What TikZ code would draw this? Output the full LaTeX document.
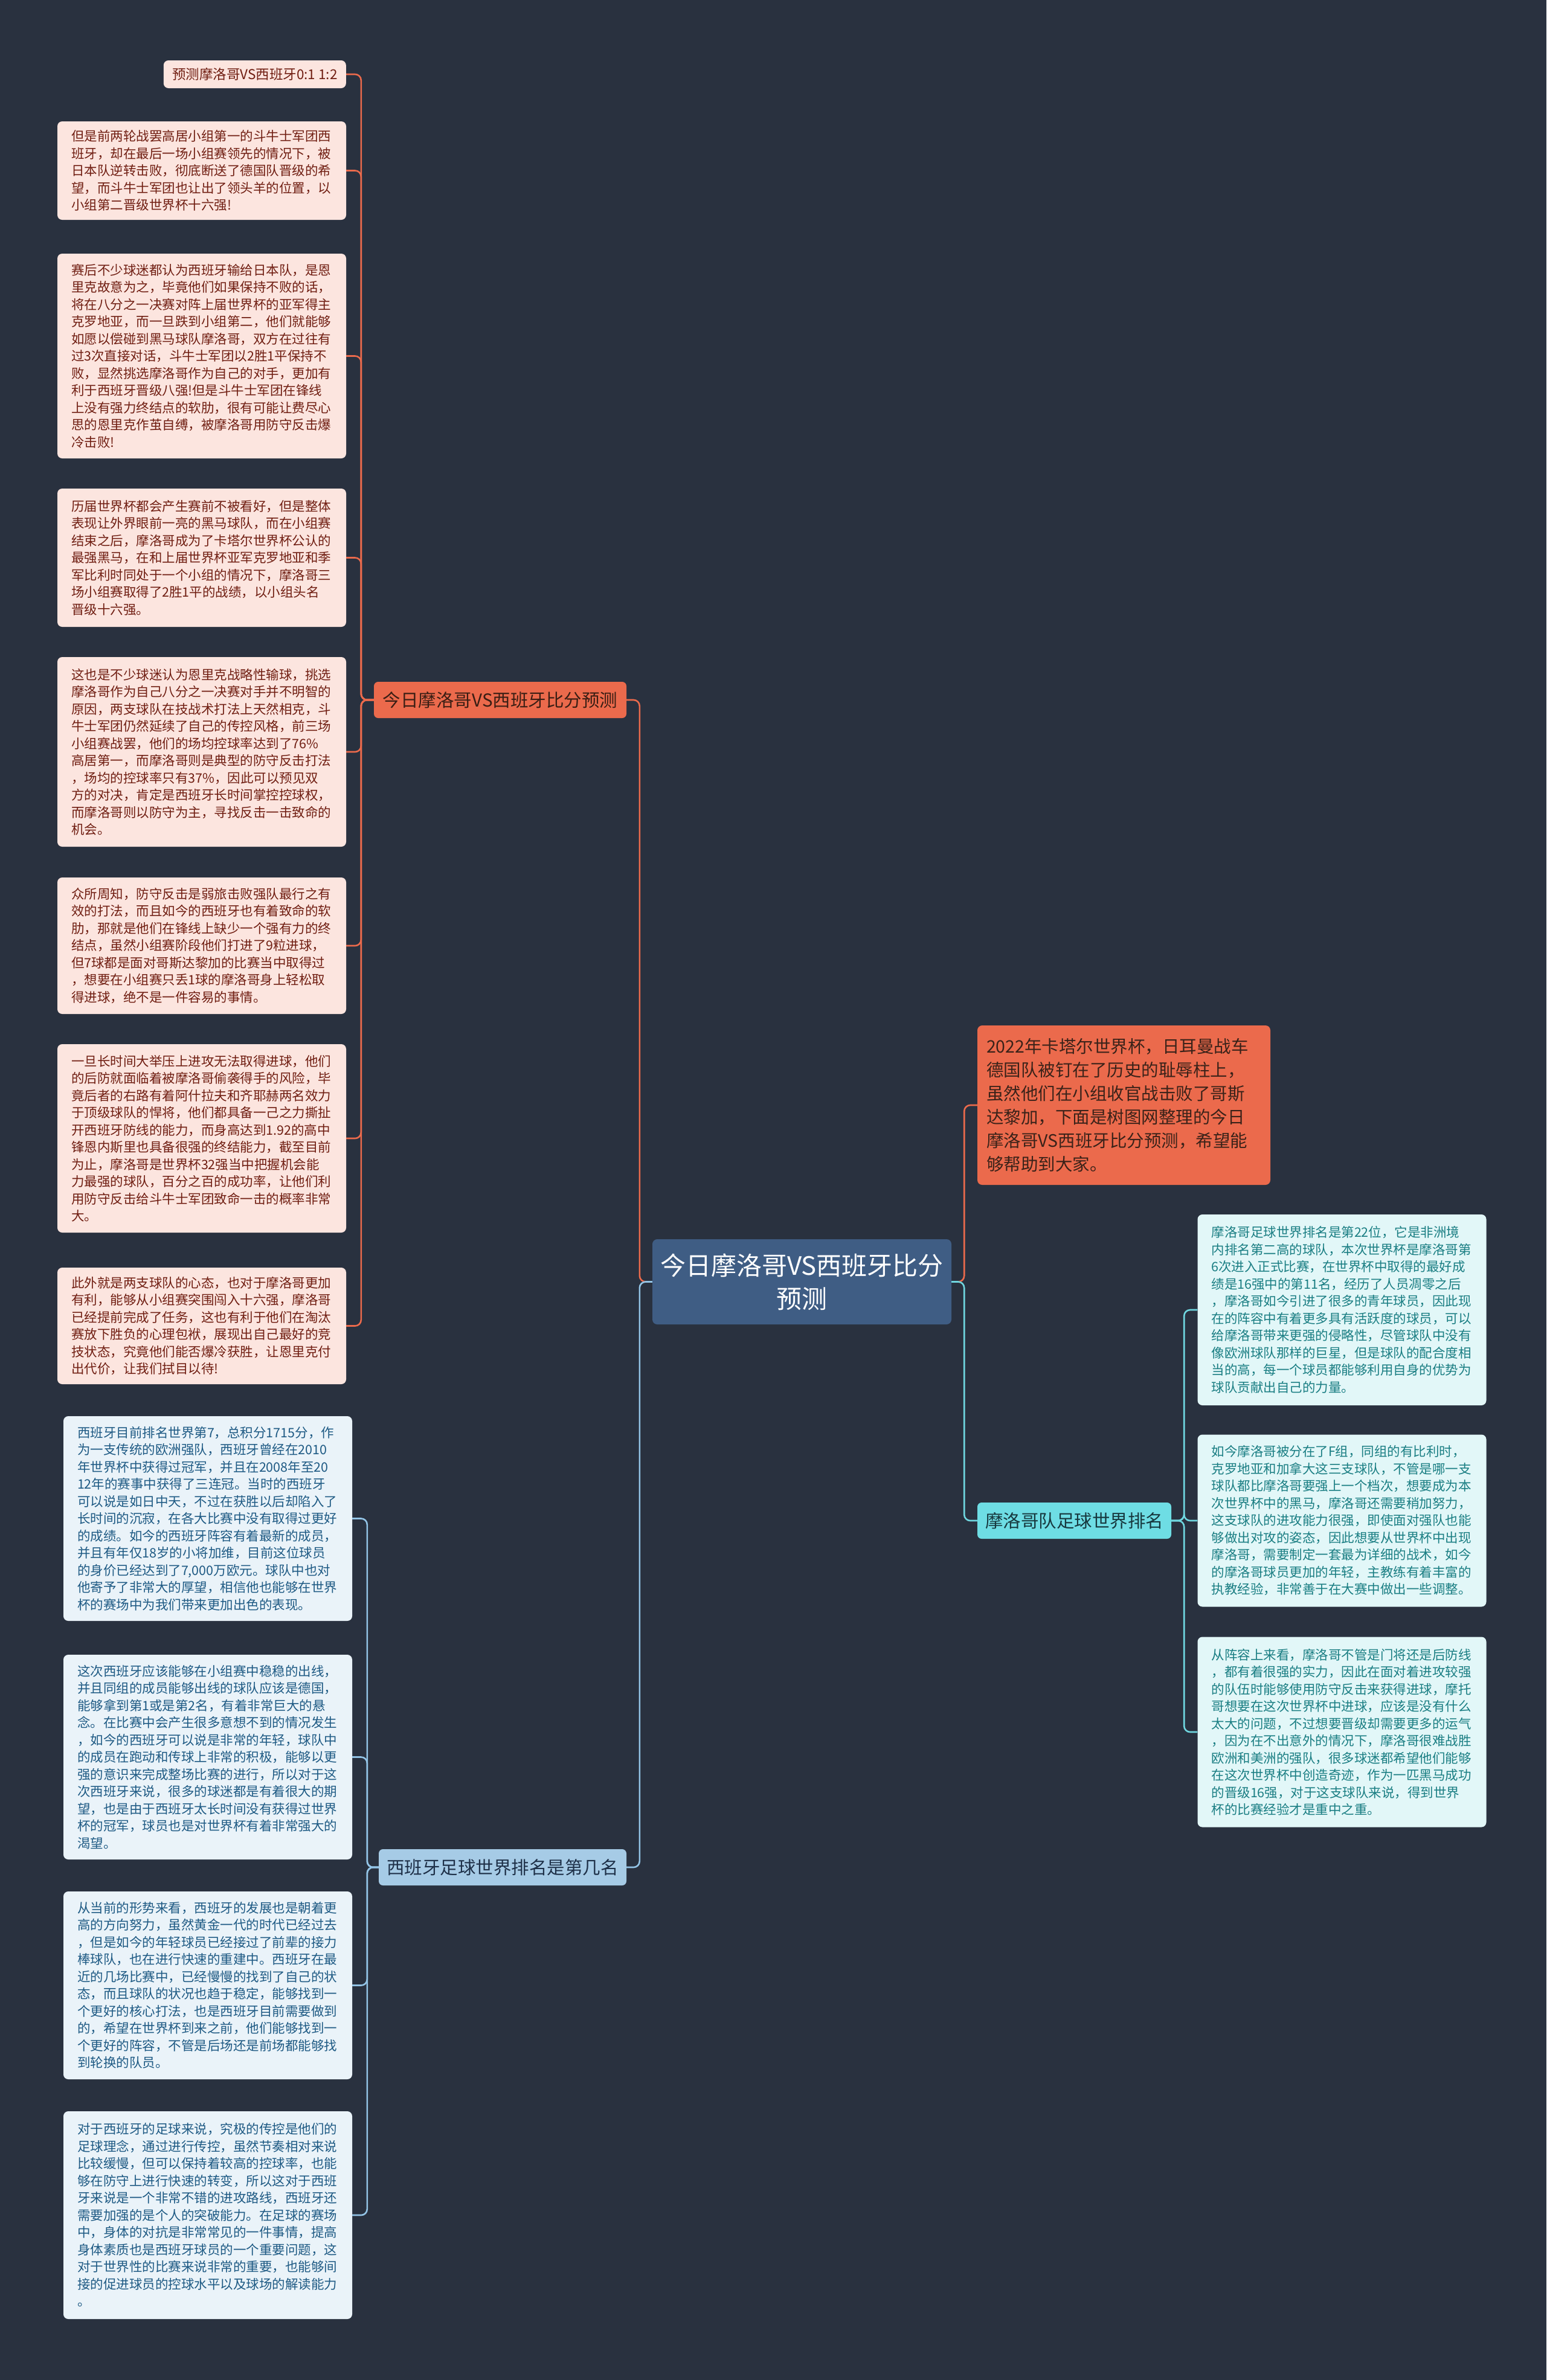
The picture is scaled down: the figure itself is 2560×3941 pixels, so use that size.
\documentclass[tikz,border=0pt]{standalone}
\usepackage{fontspec}
\setmainfont{Noto Sans CJK SC}
\definecolor{bgc}{HTML}{29313F}
\definecolor{centerc}{HTML}{3F5D84}
\definecolor{orangec}{HTML}{EB6A4C}
\definecolor{pinkc}{HTML}{FCE5DF}
\definecolor{pinktext}{HTML}{701E12}
\definecolor{bluebr}{HTML}{A6CBE6}
\definecolor{blueline}{HTML}{93C4E6}
\definecolor{blueboxc}{HTML}{EAF3F9}
\definecolor{bluetext}{HTML}{1E5A84}
\definecolor{cyanbr}{HTML}{6EDDE4}
\definecolor{cyanline}{HTML}{6FD6DF}
\definecolor{cyanboxc}{HTML}{E2F7F8}
\definecolor{cyantext}{HTML}{1A7E83}
\definecolor{brAtext}{HTML}{3A1E14}
\definecolor{brBtext}{HTML}{1E3048}
\definecolor{brCtext}{HTML}{17383E}
\definecolor{rotext}{HTML}{3A2219}
\tikzset{
  leafbase/.style={rounded corners=8pt, align=left, text width=432pt, inner xsep=23pt, inner ysep=6pt,
    font=\fontsize{21.5}{28.5}\selectfont},
  pinkbox/.style={leafbase, fill=pinkc, text=pinktext},
  bluebox/.style={leafbase, fill=blueboxc, text=bluetext},
  cyanbox/.style={leafbase, fill=cyanboxc, text=cyantext},
  branchbox/.style={rounded corners=7pt, minimum height=60pt, inner xsep=12pt, font=\fontsize{29.5}{36}\selectfont},
  conn/.style={line width=2.6pt, rounded corners=10pt},
}
\begin{document}
\begin{tikzpicture}[x=1pt,y=-1pt]
\useasboundingbox (0,0) rectangle (2560,3941);
\fill[bgc] (0,0) rectangle (2560,3941);

% center
\node[fill=centerc, text=white, rounded corners=8pt, minimum width=495pt, minimum height=141pt, align=center,
  font=\fontsize{42}{55}\selectfont] (C) at (1327.5,2122.5) {今日摩洛哥VS西班牙比分\\预测};

% branches
\node[branchbox, fill=orangec, text=brAtext, minimum width=418pt] (BA) at (828,1159) {今日摩洛哥VS西班牙比分预测};
\node[branchbox, fill=bluebr, text=brBtext, minimum width=410pt] (BB) at (832,3092) {西班牙足球世界排名是第几名};
\node[branchbox, fill=cyanbr, text=brCtext, minimum width=321pt] (BC) at (1778.5,2518) {摩洛哥队足球世界排名};

% right orange intro
\node[fill=orangec, text=rotext, rounded corners=8pt, align=left, text width=455pt, inner xsep=15pt,
  minimum height=264pt, font=\fontsize{28.5}{39}\selectfont] (RO) at (1860.5,1830) {2022年卡塔尔世界杯，日耳曼战车\\德国队被钉在了历史的耻辱柱上，\\虽然他们在小组收官战击败了哥斯\\达黎加，下面是树图网整理的今日\\摩洛哥VS西班牙比分预测，希望能\\够帮助到大家。};

% left orange leaves
\node[fill=pinkc, text=pinktext, rounded corners=8pt, inner xsep=10pt, minimum width=302pt, minimum height=46pt, anchor=east,
  font=\fontsize{22.5}{28.5}\selectfont] (L1) at (573,123) {预测摩洛哥VS西班牙0:1 1:2};
\node[pinkbox, minimum height=163pt] (L2) at (334,282.5) {但是前两轮战罢高居小组第一的斗牛士军团西\\班牙，却在最后一场小组赛领先的情况下，被\\日本队逆转击败，彻底断送了德国队晋级的希\\望，而斗牛士军团也让出了领头羊的位置，以\\小组第二晋级世界杯十六强!};
\node[pinkbox, minimum height=339pt] (L3) at (334,589.5) {赛后不少球迷都认为西班牙输给日本队，是恩\\里克故意为之，毕竟他们如果保持不败的话，\\将在八分之一决赛对阵上届世界杯的亚军得主\\克罗地亚，而一旦跌到小组第二，他们就能够\\如愿以偿碰到黑马球队摩洛哥，双方在过往有\\过3次直接对话，斗牛士军团以2胜1平保持不\\败，显然挑选摩洛哥作为自己的对手，更加有\\利于西班牙晋级八强!但是斗牛士军团在锋线\\上没有强力终结点的软肋，很有可能让费尽心\\思的恩里克作茧自缚，被摩洛哥用防守反击爆\\冷击败!};
\node[pinkbox, minimum height=229pt] (L4) at (334,923.5) {历届世界杯都会产生赛前不被看好，但是整体\\表现让外界眼前一亮的黑马球队，而在小组赛\\结束之后，摩洛哥成为了卡塔尔世界杯公认的\\最强黑马，在和上届世界杯亚军克罗地亚和季\\军比利时同处于一个小组的情况下，摩洛哥三\\场小组赛取得了2胜1平的战绩，以小组头名\\晋级十六强。};
\node[pinkbox, minimum height=314pt] (L5) at (334,1245) {这也是不少球迷认为恩里克战略性输球，挑选\\摩洛哥作为自己八分之一决赛对手并不明智的\\原因，两支球队在技战术打法上天然相克，斗\\牛士军团仍然延续了自己的传控风格，前三场\\小组赛战罢，他们的场均控球率达到了76\%\\高居第一，而摩洛哥则是典型的防守反击打法\\，场均的控球率只有37\%，因此可以预见双\\方的对决，肯定是西班牙长时间掌控控球权，\\而摩洛哥则以防守为主，寻找反击一击致命的\\机会。};
\node[pinkbox, minimum height=226pt] (L6) at (334,1566) {众所周知，防守反击是弱旅击败强队最行之有\\效的打法，而且如今的西班牙也有着致命的软\\肋，那就是他们在锋线上缺少一个强有力的终\\结点，虽然小组赛阶段他们打进了9粒进球，\\但7球都是面对哥斯达黎加的比赛当中取得过\\，想要在小组赛只丢1球的摩洛哥身上轻松取\\得进球，绝不是一件容易的事情。};
\node[pinkbox, minimum height=312pt] (L7) at (334,1885) {一旦长时间大举压上进攻无法取得进球，他们\\的后防就面临着被摩洛哥偷袭得手的风险，毕\\竟后者的右路有着阿什拉夫和齐耶赫两名效力\\于顶级球队的悍将，他们都具备一己之力撕扯\\开西班牙防线的能力，而身高达到1.92的高中\\锋恩内斯里也具备很强的终结能力，截至目前\\为止，摩洛哥是世界杯32强当中把握机会能\\力最强的球队，百分之百的成功率，让他们利\\用防守反击给斗牛士军团致命一击的概率非常\\大。};
\node[pinkbox, minimum height=193pt] (L8) at (334,2195.5) {此外就是两支球队的心态，也对于摩洛哥更加\\有利，能够从小组赛突围闯入十六强，摩洛哥\\已经提前完成了任务，这也有利于他们在淘汰\\赛放下胜负的心理包袱，展现出自己最好的竞\\技状态，究竟他们能否爆冷获胜，让恩里克付\\出代价，让我们拭目以待!};

% left blue leaves
\node[bluebox, minimum height=339pt] (M1) at (344,2514.5) {西班牙目前排名世界第7，总积分1715分，作\\为一支传统的欧洲强队，西班牙曾经在2010\\年世界杯中获得过冠军，并且在2008年至20\\12年的赛事中获得了三连冠。当时的西班牙\\可以说是如日中天，不过在获胜以后却陷入了\\长时间的沉寂，在各大比赛中没有取得过更好\\的成绩。如今的西班牙阵容有着最新的成员，\\并且有年仅18岁的小将加维，目前这位球员\\的身价已经达到了7,000万欧元。球队中也对\\他寄予了非常大的厚望，相信他也能够在世界\\杯的赛场中为我们带来更加出色的表现。};
\node[bluebox, minimum height=339pt] (M2) at (344,2909.5) {这次西班牙应该能够在小组赛中稳稳的出线，\\并且同组的成员能够出线的球队应该是德国，\\能够拿到第1或是第2名，有着非常巨大的悬\\念。在比赛中会产生很多意想不到的情况发生\\，如今的西班牙可以说是非常的年轻，球队中\\的成员在跑动和传球上非常的积极，能够以更\\强的意识来完成整场比赛的进行，所以对于这\\次西班牙来说，很多的球迷都是有着很大的期\\望，也是由于西班牙太长时间没有获得过世界\\杯的冠军，球员也是对世界杯有着非常强大的\\渴望。};
\node[bluebox, minimum height=311pt] (M3) at (344,3287.5) {从当前的形势来看，西班牙的发展也是朝着更\\高的方向努力，虽然黄金一代的时代已经过去\\，但是如今的年轻球员已经接过了前辈的接力\\棒球队，也在进行快速的重建中。西班牙在最\\近的几场比赛中，已经慢慢的找到了自己的状\\态，而且球队的状况也趋于稳定，能够找到一\\个更好的核心打法，也是西班牙目前需要做到\\的，希望在世界杯到来之前，他们能够找到一\\个更好的阵容，不管是后场还是前场都能够找\\到轮换的队员。};
\node[bluebox, minimum height=344pt] (M4) at (344,3668) {对于西班牙的足球来说，究极的传控是他们的\\足球理念，通过进行传控，虽然节奏相对来说\\比较缓慢，但可以保持着较高的控球率，也能\\够在防守上进行快速的转变，所以这对于西班\\牙来说是一个非常不错的进攻路线，西班牙还\\需要加强的是个人的突破能力。在足球的赛场\\中，身体的对抗是非常常见的一件事情，提高\\身体素质也是西班牙球员的一个重要问题，这\\对于世界性的比赛来说非常的重要，也能够间\\接的促进球员的控球水平以及球场的解读能力\\。};

% right cyan leaves
\node[cyanbox, minimum height=316pt] (R1) at (2221.5,2169) {摩洛哥足球世界排名是第22位，它是非洲境\\内排名第二高的球队，本次世界杯是摩洛哥第\\6次进入正式比赛，在世界杯中取得的最好成\\绩是16强中的第11名，经历了人员凋零之后\\，摩洛哥如今引进了很多的青年球员，因此现\\在的阵容中有着更多具有活跃度的球员，可以\\给摩洛哥带来更强的侵略性，尽管球队中没有\\像欧洲球队那样的巨星，但是球队的配合度相\\当的高，每一个球员都能够利用自身的优势为\\球队贡献出自己的力量。};
\node[cyanbox, minimum height=285pt] (R2) at (2221.5,2518) {如今摩洛哥被分在了F组，同组的有比利时，\\克罗地亚和加拿大这三支球队，不管是哪一支\\球队都比摩洛哥要强上一个档次，想要成为本\\次世界杯中的黑马，摩洛哥还需要稍加努力，\\这支球队的进攻能力很强，即使面对强队也能\\够做出对攻的姿态，因此想要从世界杯中出现\\摩洛哥，需要制定一套最为详细的战术，如今\\的摩洛哥球员更加的年轻，主教练有着丰富的\\执教经验，非常善于在大赛中做出一些调整。};
\node[cyanbox, minimum height=315pt] (R3) at (2221.5,2868) {从阵容上来看，摩洛哥不管是门将还是后防线\\，都有着很强的实力，因此在面对着进攻较强\\的队伍时能够使用防守反击来获得进球，摩托\\哥想要在这次世界杯中进球，应该是没有什么\\太大的问题，不过想要晋级却需要更多的运气\\，因为在不出意外的情况下，摩洛哥很难战胜\\欧洲和美洲的强队，很多球迷都希望他们能够\\在这次世界杯中创造奇迹，作为一匹黑马成功\\的晋级16强，对于这支球队来说，得到世界\\杯的比赛经验才是重中之重。};

% connectors: trunk
\draw[conn, orangec] (C.west) -- ++(-21,0) |- (BA.east);
\draw[conn, blueline] (C.west) -- ++(-21,0) |- (BB.east);
\draw[conn, orangec] (C.east) -- ++(21,0) |- (RO.west);
\draw[conn, cyanline] (C.east) -- ++(21,0) |- (BC.west);

% orange branch leaves
\foreach \n in {L1,L2,L3,L4,L5,L6,L7,L8}
  \draw[conn, orangec] (BA.west) -- ++(-21,0) |- (\n.east);
% blue branch leaves
\foreach \n in {M1,M2,M3,M4}
  \draw[conn, blueline] (BB.west) -- ++(-19,0) |- (\n.east);
% cyan branch leaves
\foreach \n in {R1,R2,R3}
  \draw[conn, cyanline] (BC.east) -- ++(21,0) |- (\n.west);
\end{tikzpicture}
\end{document}
